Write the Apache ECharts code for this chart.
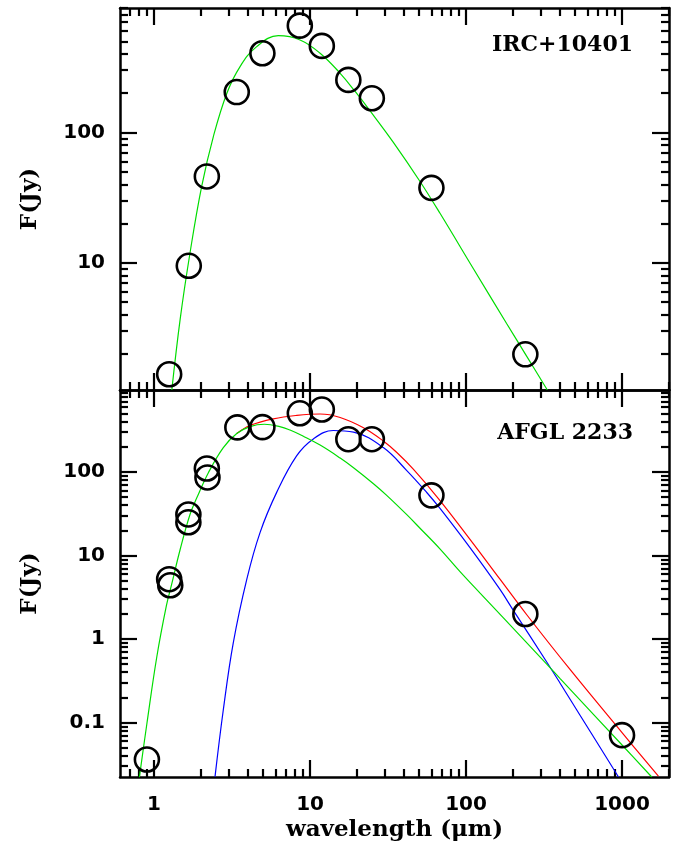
<!DOCTYPE html>
<html>
<head>
<meta charset="utf-8">
<script src="https://cdn.jsdelivr.net/npm/echarts@6/dist/echarts.min.js"></script>
<style>
html,body{margin:0;padding:0;background:#fff;}
#chart{width:681px;height:848px;}
</style>
</head>
<body>
<div id="chart"></div>
<script>
// ---------- axis ranges & tick labels ----------
const X_MIN = 0.605, X_MAX = 2000;
const TOP_Y_MIN = 1.06, TOP_Y_MAX = 900;
const BOT_Y_MIN = 0.0222, BOT_Y_MAX = 960;

const xMajorTicks = [1, 10, 100, 1000];
const xMinorTicks = [0.7, 0.8, 0.9, 2, 3, 4, 5, 6, 7, 8, 9, 20, 30, 40, 50, 60, 70, 80, 90,
                     200, 300, 400, 500, 600, 700, 800, 900, 2000];
const topYMajorTicks = [10, 100];
const topYMinorTicks = [2, 3, 4, 5, 6, 7, 8, 9, 20, 30, 40, 50, 60, 70, 80, 90,
                        200, 300, 400, 500, 600, 700, 800, 900];
const botYMajorTicks = [0.1, 1, 10, 100];
const botYMinorTicks = [0.03, 0.04, 0.05, 0.06, 0.07, 0.08, 0.09,
                        0.2, 0.3, 0.4, 0.5, 0.6, 0.7, 0.8, 0.9,
                        2, 3, 4, 5, 6, 7, 8, 9, 20, 30, 40, 50, 60, 70, 80, 90,
                        200, 300, 400, 500, 600, 700, 800, 900];

// ---------- IRC+10401 (top panel) ----------
const ircWave = [1.25, 1.67, 2.18, 3.39, 4.95, 8.6, 11.9, 17.6, 24.9, 60, 240];
const ircFlux = [1.40, 9.5, 46, 204, 405, 659, 461, 253, 183, 37.6, 1.99];

const ircModelWave = [1.30, 1.47, 1.70, 2.02, 2.40, 2.93, 3.56, 4.55, 6.26, 8.63, 11.6, 15.6,
                      19.4, 24.2, 34.2, 50.7, 68.1, 111, 182, 245, 332];
const ircModelFlux = [1.06, 3.69, 11.9, 38.6, 93, 200, 320, 455, 552, 512, 405, 284,
                      207, 147, 84, 42.1, 24.0, 9.1, 3.43, 1.92, 1.06];

// ---------- AFGL 2233 (bottom panel) ----------
const afglWave = [0.90, 1.25, 1.27, 1.66, 1.66, 2.18, 2.20, 3.42, 4.95, 8.6, 11.9, 17.6, 24.9, 60, 240, 1000];
const afglFlux = [0.036, 5.2, 4.4, 31, 25, 110, 86, 342, 345, 505, 560, 247, 247, 52.5, 1.99, 0.0704];

const afglStarWave = [0.805, 0.90, 1.04, 1.20, 1.30, 1.47, 1.70, 1.88, 2.23, 2.78, 3.39, 4.12, 5.1,
                      6.4, 7.44, 9.06, 11.6, 15.6, 19, 25.5, 31, 41.7, 50.7, 68, 91.5, 123, 173,
                      329, 401, 1021, 1550];
const afglStarFlux = [0.022, 0.097, 0.60, 2.5, 4.6, 11.8, 31, 49, 98, 196, 289, 350, 373,
                      350, 318, 268, 210, 147, 112.6, 72.4, 52.5, 30.8, 21.2, 12.0, 6.4, 3.54, 1.80,
                      0.50, 0.335, 0.0515, 0.0222];

const afglDustWave = [2.46, 2.78, 3.22, 3.93, 4.78, 6.11, 8.22, 10.5, 14.1, 19, 29.5, 41.7, 56,
                      68.1, 106, 165, 201, 329, 401, 538, 949];
const afglDustFlux = [0.0224, 0.142, 0.90, 5.18, 18.8, 57, 157, 249, 314, 300, 196, 104, 56.8,
                      36.6, 12.4, 3.92, 2.2, 0.53, 0.295, 0.122, 0.0222];

const afglTotalWave = [3.39, 4.12, 5.82, 8.22, 11.6, 15.6, 22, 29.5, 36, 45.9, 66.5, 106, 165, 245,
                       464, 1000, 1710];
const afglTotalFlux = [289, 360, 433, 476, 495, 450, 339, 235, 171, 108, 48, 15.6, 5.2, 1.95,
                       0.431, 0.0755, 0.0228];

// ---------- helpers ----------
const pairs = (xs, ys) => xs.map((x, i) => [x, ys[i]]);
const inRange = (arr, lo, hi) => arr.filter(v => v >= lo && v <= hi);
const fmt = v => String(+Number(v).toPrecision(6));

const LABEL_FONT = {fontFamily: 'DejaVu Sans', fontWeight: 'bold', fontSize: 20, color: '#000'};
const NAME_FONT = {fontFamily: 'DejaVu Serif', fontWeight: 'bold', fontSize: 23, color: '#000'};
const FRAME = {show: true, onZero: false, lineStyle: {color: '#000', width: 2.5}};

function logAxis(dimLo, dimHi, gridIndex, position, ticks, major, withLine, withLabels, extra, labelMargin) {
  return Object.assign({
    type: 'log', logBase: 10, gridIndex, position,
    min: dimLo, max: dimHi,
    axisLine: withLine ? FRAME : {show: false, onZero: false},
    axisTick: {show: true, inside: true, length: major ? 17 : 8,
               lineStyle: {color: '#000', width: 2.2},
               customValues: inRange(ticks, dimLo, dimHi)},
    axisLabel: withLabels
      ? Object.assign({show: true, margin: labelMargin || 15, formatter: fmt,
                       customValues: inRange(ticks, dimLo, dimHi)}, LABEL_FONT)
      : {show: false},
    splitLine: {show: false},
    minorTick: {show: false},
    minorSplitLine: {show: false}
  }, extra || {});
}

function xAxesFor(g, showLabels, extra) {
  return [
    logAxis(X_MIN, X_MAX, g, 'bottom', xMajorTicks, true, true, showLabels, extra, 18),
    logAxis(X_MIN, X_MAX, g, 'bottom', xMinorTicks, false, false, false),
    logAxis(X_MIN, X_MAX, g, 'top', xMajorTicks, true, true, false),
    logAxis(X_MIN, X_MAX, g, 'top', xMinorTicks, false, false, false)
  ];
}
function yAxesFor(g, lo, hi, majors, minors) {
  const nameOpt = {name: 'F(Jy)', nameLocation: 'middle', nameGap: 78, nameTextStyle: NAME_FONT};
  return [
    logAxis(lo, hi, g, 'left', majors, true, true, true, nameOpt, 15),
    logAxis(lo, hi, g, 'left', minors, false, false, false),
    logAxis(lo, hi, g, 'right', majors, true, true, false),
    logAxis(lo, hi, g, 'right', minors, false, false, false)
  ];
}

const SYMBOL_STYLE = {color: 'rgba(0,0,0,0)', borderColor: '#000', borderWidth: 2.6, opacity: 1};

function points(name, xs, ys, axisIdx) {
  return {
    name, type: 'scatter', xAxisIndex: axisIdx, yAxisIndex: axisIdx,
    symbol: 'circle', symbolSize: 24, itemStyle: SYMBOL_STYLE,
    data: pairs(xs, ys), z: 5
  };
}
function curve(name, xs, ys, color, axisIdx, z) {
  return {
    name, type: 'line', xAxisIndex: axisIdx, yAxisIndex: axisIdx,
    showSymbol: false, symbol: 'none', smooth: 0.4,
    lineStyle: {color, width: 1.2}, data: pairs(xs, ys), z: z, clip: true
  };
}

const option = {
  animation: false,
  backgroundColor: '#fff',
  grid: [
    {left: 120, right: 12, top: 8, height: 382, outerBoundsMode: 'none', containLabel: false},
    {left: 120, right: 12, top: 390, height: 387, outerBoundsMode: 'none', containLabel: false}
  ],
  title: [
    {text: 'IRC+10401', right: 48, top: 34, padding: 0,
     textStyle: {fontFamily: 'DejaVu Serif', fontWeight: 'bold', fontSize: 22, color: '#000'}},
    {text: 'AFGL 2233', right: 48, top: 422, padding: 0,
     textStyle: {fontFamily: 'DejaVu Serif', fontWeight: 'bold', fontSize: 22, color: '#000'}}
  ],
  xAxis: [].concat(
    xAxesFor(0, false),
    xAxesFor(1, true, {name: 'wavelength (\u03bcm)', nameLocation: 'middle', nameGap: 42,
                       nameTextStyle: NAME_FONT})
  ),
  yAxis: [].concat(
    yAxesFor(0, TOP_Y_MIN, TOP_Y_MAX, topYMajorTicks, topYMinorTicks),
    yAxesFor(1, BOT_Y_MIN, BOT_Y_MAX, botYMajorTicks, botYMinorTicks)
  ),
  series: [
    curve('IRC+10401 model', ircModelWave, ircModelFlux, '#00dd00', 0, 3),
    points('IRC+10401', ircWave, ircFlux, 0),
    curve('AFGL 2233 total', afglTotalWave, afglTotalFlux, '#ff0000', 4, 2),
    curve('AFGL 2233 dust', afglDustWave, afglDustFlux, '#0000ff', 4, 3),
    curve('AFGL 2233 star', afglStarWave, afglStarFlux, '#00dd00', 4, 4),
    points('AFGL 2233', afglWave, afglFlux, 4)
  ]
};

const chart = echarts.init(document.getElementById('chart'), null, {renderer: 'canvas'});
chart.setOption(option);
</script>
</body>
</html>
